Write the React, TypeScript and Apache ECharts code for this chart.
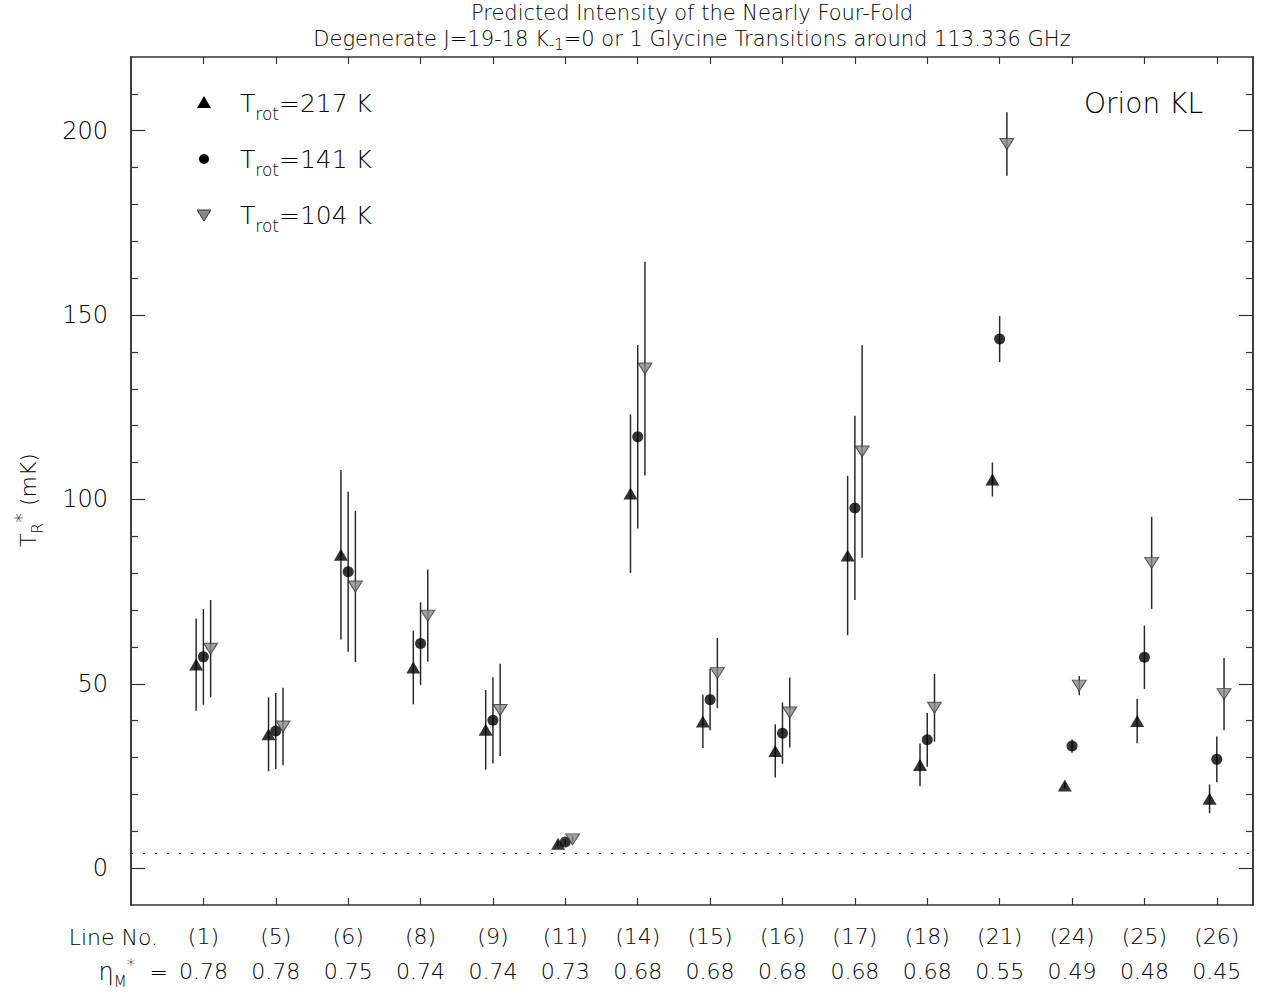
import React, { useEffect, useRef } from 'react';
import * as echarts from 'echarts';

// ---- data ----
const lineNos = ['1', '5', '6', '8', '9', '11', '14', '15', '16', '17', '18', '21', '24', '25', '26'];
const etas = ['0.78', '0.78', '0.75', '0.74', '0.74', '0.73', '0.68', '0.68', '0.68', '0.68', '0.68', '0.55', '0.49', '0.48', '0.45'];

const t217 = [55.2, 36.3, 85.0, 54.4, 37.5, 6.6, 101.6, 39.8, 31.8, 84.8, 28.0, 105.4, 22.4, 39.9, 18.8];
const e217 = [12.5, 10.0, 23.0, 10.0, 10.8, 0.6, 21.5, 7.2, 7.2, 21.6, 5.8, 4.6, 0.8, 6.0, 3.9];
const t141 = [57.3, 37.2, 80.4, 60.9, 40.1, 7.1, 117.0, 45.7, 36.6, 97.7, 34.8, 143.5, 33.1, 57.2, 29.5];
const e141 = [13.0, 10.3, 21.7, 11.2, 11.7, 0.7, 24.9, 8.3, 8.3, 25.0, 7.3, 6.25, 1.8, 8.6, 6.2];
const t104 = [59.5, 38.4, 76.4, 68.5, 42.9, 7.8, 135.5, 52.9, 42.2, 113.0, 43.5, 196.4, 49.5, 82.8, 47.2];
const e104 = [13.2, 10.5, 20.5, 12.5, 12.5, 0.9, 29.0, 9.5, 9.5, 28.8, 9.2, 8.6, 2.6, 12.5, 9.8];

const xTicks = [1, 2, 3, 4, 5, 6, 7, 8, 9, 10, 11, 12, 13, 14, 15];
const yMajorTicks = [0, 50, 100, 150, 200];
const yMinorTicks = [10, 20, 30, 40, 60, 70, 80, 90, 110, 120, 130, 140, 160, 170, 180, 190, 210];
const detectionLimit = 4;
const seriesOffsets = [-0.1, 0, 0.1];
const tempNames = ['217', '141', '104'];

const FONT = "'DejaVu Sans', sans-serif";
const FW = 300;
const TXT = '#000';
const AXC = '#333';

function pts(vals: number[], off: number) {
  return vals.map((v, i) => [i + 1 + off, v]);
}
function bars(vals: number[], errs: number[], off: number) {
  return vals.map((v, i) => [i + 1 + off, v - errs[i], v + errs[i]]);
}

const errRender = (params: any, api: any) => {
  const x = api.value(0);
  const p1 = api.coord([x, api.value(1)]);
  const p2 = api.coord([x, api.value(2)]);
  return {
    type: 'line',
    shape: { x1: p1[0], y1: p1[1], x2: p2[0], y2: p2[1] },
    style: { stroke: '#2a2a2a', lineWidth: 1.5 },
  };
};

function rs(size: number, lh: number, extra: any = {}) {
  return { fontSize: size, lineHeight: lh, fontFamily: FONT, fontWeight: FW, fill: TXT, color: TXT, ...extra };
}

export default function App() {
  const ref = useRef<HTMLDivElement>(null);
  useEffect(() => {
    if (!ref.current) return;
    const chart = echarts.init(ref.current, null, { renderer: 'svg' });

    const yBase = {
      type: 'value',
      min: -10,
      max: 220,
      splitLine: { show: false },
      axisLine: { show: true, onZero: false, lineStyle: { color: AXC, width: 1.5 } },
    };
    const xBase = {
      type: 'value',
      min: 0,
      max: 15.5,
      splitLine: { show: false },
      axisLine: { show: true, onZero: false, lineStyle: { color: AXC, width: 1.5 } },
      axisTick: { show: true, inside: true, length: 7, customValues: xTicks, lineStyle: { color: AXC, width: 1.2 } },
    };

    const legendItems = [
      { type: 'polygon', shape: { points: [[197, 108], [211, 108], [204, 96]] }, style: { fill: '#000' } },
      { type: 'circle', shape: { cx: 204, cy: 159, r: 5 }, style: { fill: '#000' } },
      { type: 'polygon', shape: { points: [[197, 210], [211, 210], [204, 221]] }, style: { fill: '#888', stroke: '#333', lineWidth: 1 } },
    ];
    const legendTexts = tempNames.map((n, i) => ({
      type: 'text',
      x: 240,
      y: 103 + i * 56,
      style: {
        text: `{b|T}{s|rot}{b|=${n} K}`,
        align: 'left', textAlign: 'left', verticalAlign: 'middle', textVerticalAlign: 'middle',
        rich: {
          b: rs(25, 38),
          s: rs(17, 14, { verticalAlign: 'bottom' }),
        },
      },
    }));

    const option: any = {
      animation: false,
      grid: { left: 131, right: 13, top: 57, bottom: 89, containLabel: false },
      xAxis: [
        {
          ...xBase,
          position: 'bottom',
          axisLabel: {
            show: true,
            customValues: xTicks,
            margin: 14,
            fontSize: 22,
            lineHeight: 35,
            fontFamily: FONT,
            fontWeight: FW,
            color: TXT,
            formatter: (v: number) => {
              const i = Math.round(v) - 1;
              return `(${lineNos[i]})\n${etas[i]}`;
            },
          },
        },
        { ...xBase, position: 'top', axisLabel: { show: false } },
      ],
      yAxis: [
        {
          ...yBase,
          position: 'left',
          axisTick: { show: true, inside: true, length: 14, customValues: yMajorTicks, lineStyle: { color: AXC, width: 1.2 } },
          axisLabel: { show: true, customValues: yMajorTicks, margin: 23, fontSize: 24, fontFamily: FONT, fontWeight: FW, color: TXT },
        },
        {
          ...yBase,
          position: 'left',
          axisLabel: { show: false },
          axisTick: { show: true, inside: true, length: 7, customValues: yMinorTicks, lineStyle: { color: AXC, width: 1.2 } },
        },
        {
          ...yBase,
          position: 'right',
          axisLabel: { show: false },
          axisTick: { show: true, inside: true, length: 14, customValues: yMajorTicks, lineStyle: { color: AXC, width: 1.2 } },
        },
        {
          ...yBase,
          position: 'right',
          axisLabel: { show: false },
          axisTick: { show: true, inside: true, length: 7, customValues: yMinorTicks, lineStyle: { color: AXC, width: 1.2 } },
        },
      ],
      graphic: [
        {
          type: 'text', x: 692, y: 13,
          style: {
            text: 'Predicted Intensity of the Nearly Four-Fold',
            fontSize: 21, fontFamily: FONT, fontWeight: FW, fill: TXT,
            align: 'center', textAlign: 'center', verticalAlign: 'middle', textVerticalAlign: 'middle',
          },
        },
        {
          type: 'text', x: 692, y: 39,
          style: {
            text: '{b|Degenerate J=19-18 K}{s|-1}{b|=0 or 1 Glycine Transitions around 113.336 GHz}',
            align: 'center', textAlign: 'center', verticalAlign: 'middle', textVerticalAlign: 'middle',
            rich: {
              b: rs(21, 26),
              s: rs(15, 12, { verticalAlign: 'bottom' }),
            },
          },
        },
        {
          type: 'text', x: 1203, y: 103,
          style: {
            text: 'Orion KL', fontSize: 28, fontFamily: FONT, fontWeight: FW, fill: TXT,
            align: 'right', textAlign: 'right', verticalAlign: 'middle', textVerticalAlign: 'middle',
          },
        },
        ...legendItems,
        ...legendTexts,
        {
          type: 'text', x: 28, y: 500, rotation: Math.PI / 2,
          style: {
            text: '{b|T}{s|R}{p|*}{b| (mK)}',
            align: 'center', textAlign: 'center', verticalAlign: 'middle', textVerticalAlign: 'middle',
            rich: {
              b: rs(22, 34),
              s: rs(15, 12, { verticalAlign: 'bottom' }),
              p: rs(20, 14, { verticalAlign: 'top' }),
            },
          },
        },
        {
          type: 'text', x: 158, y: 937,
          style: {
            text: 'Line No.', fontSize: 22, fontFamily: FONT, fontWeight: FW, fill: TXT,
            align: 'right', textAlign: 'right', verticalAlign: 'middle', textVerticalAlign: 'middle',
          },
        },
        {
          type: 'text', x: 168, y: 972,
          style: {
            text: '{e|η}{s|M}{p|*}{b|  =}',
            align: 'right', textAlign: 'right', verticalAlign: 'middle', textVerticalAlign: 'middle',
            rich: {
              e: rs(24, 34),
              b: rs(22, 34),
              s: rs(15, 12, { verticalAlign: 'bottom' }),
              p: rs(18, 14, { verticalAlign: 'top' }),
            },
          },
        },
      ],
      series: [
        { type: 'custom', name: 'err217', renderItem: errRender, data: bars(t217, e217, seriesOffsets[0]), z: 1, silent: true },
        { type: 'custom', name: 'err141', renderItem: errRender, data: bars(t141, e141, seriesOffsets[1]), z: 1, silent: true },
        { type: 'custom', name: 'err104', renderItem: errRender, data: bars(t104, e104, seriesOffsets[2]), z: 1, silent: true },
        {
          type: 'scatter', name: 'T_rot=217 K', symbol: 'triangle', symbolSize: [14, 12],
          itemStyle: { color: '#000' }, data: pts(t217, seriesOffsets[0]), z: 3,
          markLine: {
            silent: true, symbol: 'none', label: { show: false },
            lineStyle: { color: '#222', type: [2, 10], width: 1.2 },
            data: [{ yAxis: detectionLimit }],
          },
        },
        {
          type: 'scatter', name: 'T_rot=141 K', symbol: 'circle', symbolSize: 11,
          itemStyle: { color: '#000' }, data: pts(t141, seriesOffsets[1]), z: 3,
        },
        {
          type: 'scatter', name: 'T_rot=104 K', symbol: 'triangle', symbolRotate: 180, symbolSize: [14, 11],
          itemStyle: { color: '#888', borderColor: '#333', borderWidth: 1 }, data: pts(t104, seriesOffsets[2]), z: 3,
        },
      ],
    };
    chart.setOption(option);
    return () => chart.dispose();
  }, []);
  return <div ref={ref} style={{ width: 1266, height: 994, position: 'absolute', left: 0, top: 0 }} />;
}
